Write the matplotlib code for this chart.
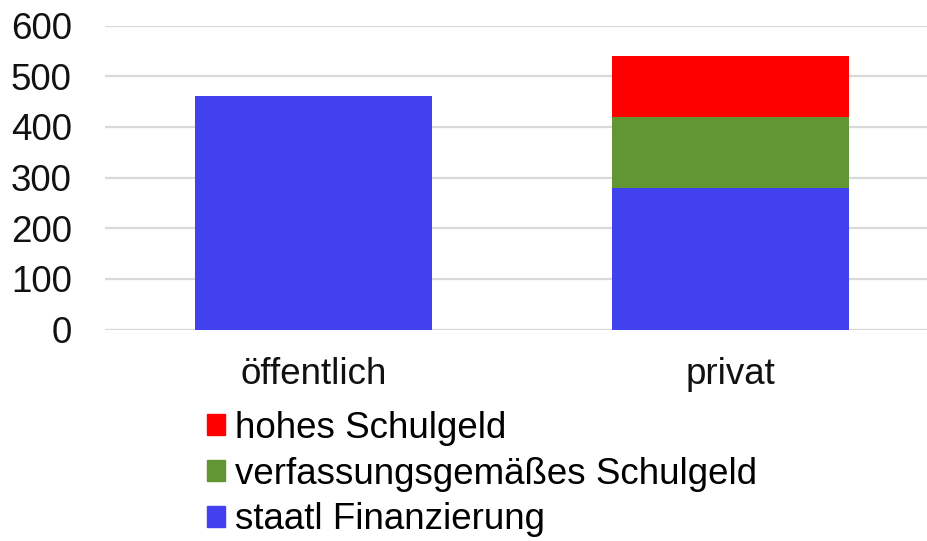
import matplotlib
matplotlib.use("Agg")
import matplotlib.pyplot as plt
from matplotlib.patches import Patch

plt.rcParams['font.family'] = ['Liberation Sans', 'DejaVu Sans']

categories = ['öffentlich', 'privat']
staatl = [460, 280]
verfassung = [0, 140]
hohes = [0, 120]
yticks = [0, 100, 200, 300, 400, 500, 600]

blue = '#4141F0'
green = '#629632'
red = '#FF0000'

fig = plt.figure(figsize=(9.27, 5.41), dpi=100)
ax = fig.add_axes([105/927, 1 - 329.5/541, 822/927, 304/541])

x = range(len(categories))
w = 0.568
ax.bar(x, staatl, width=w, color=blue, zorder=3)
ax.bar(x, verfassung, width=w, bottom=staatl, color=green, zorder=3)
bottom2 = [a + b for a, b in zip(staatl, verfassung)]
ax.bar(x, hohes, width=w, bottom=bottom2, color=red, zorder=3)

ax.set_ylim(0, 600)
ax.set_xlim(-0.5, 1.471)
ax.set_yticks(yticks)
ax.set_xticks(list(x))
ax.set_xticklabels(categories)
ax.yaxis.grid(True, color='#d9d9d9', linewidth=1.6, zorder=0)
ax.set_axisbelow(True)
for s in ax.spines.values():
    s.set_visible(False)
ax.tick_params(axis='both', length=0, labelsize=26.5, colors='#111111')
ax.tick_params(axis='y', pad=24)
ax.tick_params(axis='x', pad=20)

handles = [Patch(color=red), Patch(color=green), Patch(color=blue)]
labels = ['hohes Schulgeld', 'verfassungsgemäßes Schulgeld', 'staatl Finanzierung']
fig.legend(handles, labels, loc='upper left', bbox_to_anchor=(207/927, 1 - 411/541),
           frameon=False, fontsize=26.5, handlelength=0.5, handleheight=0.5,
           handletextpad=0.27, labelspacing=0.29, borderaxespad=0, borderpad=0)

fig.savefig('out.png', dpi=100)
